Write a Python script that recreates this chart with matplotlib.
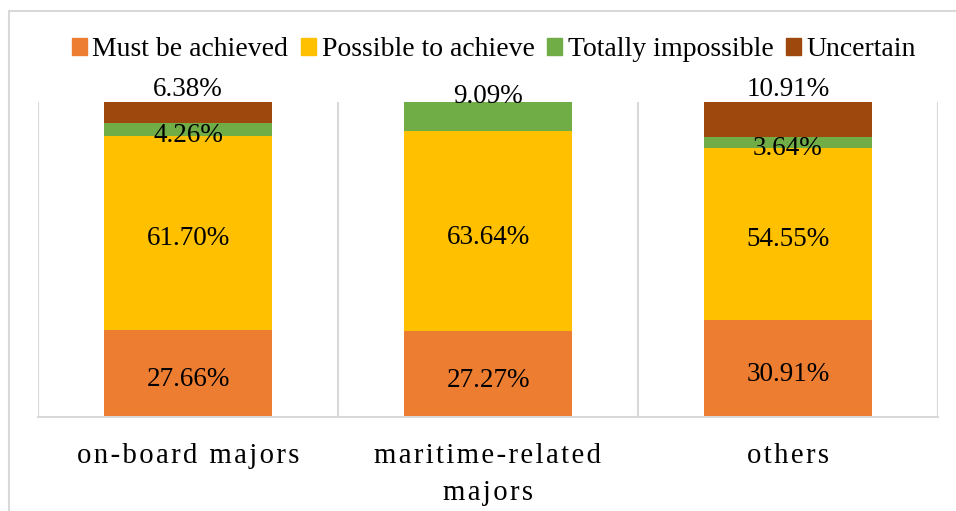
import matplotlib.pyplot as plt
from matplotlib.patches import Patch, Rectangle

plt.rcParams['font.family'] = ['Liberation Serif', 'DejaVu Serif']

# data (percent)
categories = ['on-board majors', 'maritime-related\nmajors', 'others']
series = ['Must be achieved', 'Possible to achieve', 'Totally impossible', 'Uncertain']
must = [27.66, 27.27, 30.91]
possible = [61.70, 63.64, 54.55]
impossible = [4.26, 9.09, 3.64]
uncertain = [6.38, 0.0, 10.91]

colors = ['#ED7D31', '#FFC000', '#70AD47', '#9E480E']
values = [must, possible, impossible, uncertain]

fig = plt.figure(figsize=(9.56, 5.11), dpi=100)
ax = fig.add_axes([38 / 956, 1 - 417 / 511, 900 / 956, 314.5 / 511])

# outer chart border (left and top visible)
fig.patches.append(Rectangle((9 / 956, -0.1), 1.2, 1 - 11 / 511 + 0.1,
                             transform=fig.transFigure, fill=False,
                             edgecolor='#d9d9d9', linewidth=1.5))

x = range(len(categories))
bottom = [0, 0, 0]
for name, vals, col in zip(series, values, colors):
    ax.bar(x, vals, width=0.56, bottom=bottom, color=col, label=name, zorder=2)
    for i, v in enumerate(vals):
        if v <= 0:
            continue
        y = bottom[i] + v / 2 - 1.9
        if name == 'Uncertain':
            y = 104.0
        elif name == 'Totally impossible' and bottom[i] + v >= 99.9:
            y = 101.8
        ax.text(i, y, f'{v:.2f}%', ha='center', va='center', fontsize=19.5,
                color='black', zorder=3, clip_on=False)
    bottom = [b + v for b, v in zip(bottom, vals)]

ax.set_xlim(-0.5, 2.5)
ax.set_ylim(0, 100)
for xv in [-0.5, 0.5, 1.5, 2.5]:
    ax.axvline(xv, color='#d9d9d9', linewidth=1.5, zorder=1)
for s in ['top', 'right', 'left']:
    ax.spines[s].set_visible(False)
ax.spines['bottom'].set_color('#d9d9d9')
ax.spines['bottom'].set_linewidth(1.5)
ax.set_yticks([])

hair = '\u200a'
spaced = [hair.join(c) for c in categories]
spaced = [s.replace(hair + '\n' + hair, '\n') for s in spaced]
ax.set_xticks(list(x))
ax.set_xticklabels(spaced, fontsize=20.7, linespacing=1.55)
ax.tick_params(axis='x', length=0, pad=19)

handles = [Patch(color=c, label=n) for n, c in zip(series, colors)]
fig.legend(handles=handles, loc='center',
           bbox_to_anchor=(0.5 + 16 / 956, 1 - 50 / 511),
           ncol=4, frameon=False, fontsize=20, handlelength=0.55,
           handleheight=0.55, handletextpad=0.2, columnspacing=0.45)

fig.savefig('out.png', dpi=100)
